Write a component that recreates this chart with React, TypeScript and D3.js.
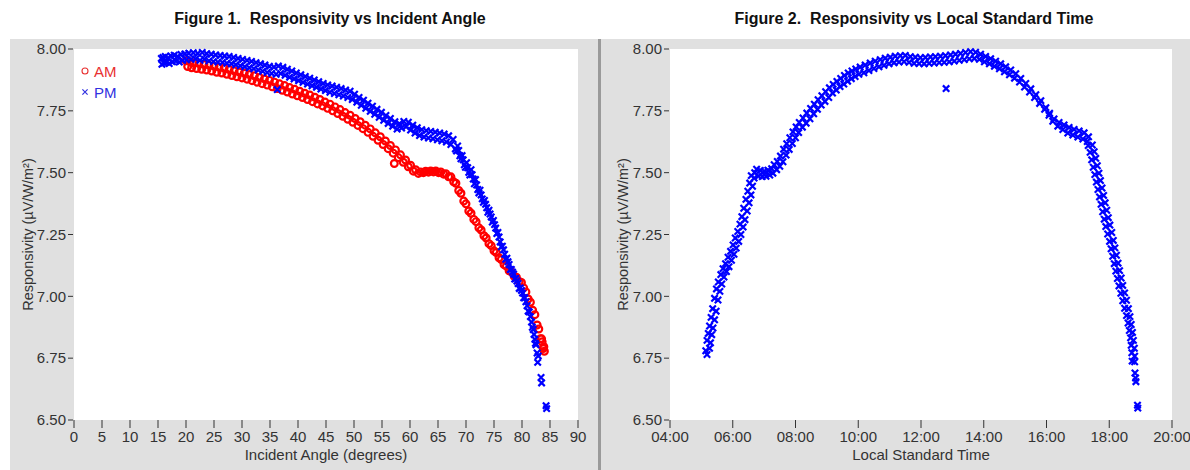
import React from "react";
import * as d3 from "d3";

// ---------- data ----------
const respTicks = [6.5, 6.75, 7.0, 7.25, 7.5, 7.75, 8.0];
const angleTicks = [0, 5, 10, 15, 20, 25, 30, 35, 40, 45, 50, 55, 60, 65, 70, 75, 80, 85, 90];
const timeTicks = [4, 6, 8, 10, 12, 14, 16, 18, 20];
const timeTickLabels = ["04:00", "06:00", "08:00", "10:00", "12:00", "14:00", "16:00", "18:00", "20:00"];

// Figure 1, AM series: [incident angle (deg), responsivity]
const amAngleResp: [number, number][] = [
  [20.0,7.952],[20.3,7.929],[20.7,7.948],[21.0,7.924],[21.4,7.944],[21.9,7.921],[22.3,7.941],[22.8,7.918],[23.2,7.937],[23.7,7.915],
  [24.1,7.934],[24.6,7.911],[25.0,7.930],[25.5,7.906],[25.9,7.926],[26.4,7.903],[26.8,7.922],[27.3,7.898],[27.7,7.917],[28.2,7.893],
  [28.6,7.912],[29.1,7.888],[29.5,7.907],[30.0,7.883],[30.4,7.902],[30.9,7.878],[31.3,7.897],[31.8,7.872],[32.2,7.892],[32.7,7.866],
  [33.1,7.885],[33.6,7.860],[34.0,7.879],[34.5,7.854],[34.9,7.873],[35.4,7.847],[35.8,7.866],[36.3,7.840],[36.7,7.859],[37.2,7.833],
  [37.6,7.852],[38.1,7.826],[38.5,7.844],[39.0,7.818],[39.4,7.837],[39.9,7.811],[40.3,7.829],[40.8,7.804],[41.2,7.821],[41.7,7.796],
  [42.1,7.814],[42.6,7.787],[43.0,7.805],[43.5,7.778],[43.9,7.796],[44.4,7.770],[44.8,7.786],[45.3,7.760],[45.7,7.777],[46.2,7.750],
  [46.6,7.766],[47.1,7.739],[47.5,7.755],[48.0,7.728],[48.4,7.743],[48.9,7.716],[49.3,7.732],[49.8,7.704],[50.2,7.719],[50.7,7.691],
  [51.1,7.706],[51.6,7.678],[52.0,7.692],[52.5,7.663],[52.9,7.677],[53.4,7.647],[53.8,7.661],[54.3,7.631],[54.7,7.645],[55.2,7.614],
  [55.6,7.628],[56.1,7.597],[56.5,7.610],[57.0,7.579],[57.4,7.592],[57.9,7.561],[58.3,7.572],[58.8,7.542],[59.2,7.551],[59.7,7.524],
  [60.1,7.530],[60.6,7.506],[61.0,7.512],[61.5,7.497],[61.9,7.503],[62.4,7.500],[62.8,7.506],[63.3,7.502],[63.7,7.507],[64.2,7.503],
  [64.6,7.507],[65.1,7.500],[65.5,7.503],[66.0,7.494],[66.4,7.496],[66.9,7.483],[67.3,7.483],[67.8,7.463],[68.2,7.457],[68.7,7.428],
  [69.1,7.417],[69.6,7.385],[70.0,7.374],[70.5,7.345],[70.9,7.336],[71.4,7.311],[71.8,7.302],[72.3,7.277],[72.7,7.268],[73.2,7.245],
  [73.6,7.236],[74.1,7.213],[74.5,7.205],[75.0,7.184],[75.4,7.177],[75.9,7.156],[76.3,7.149],[76.8,7.128],[77.2,7.122],[77.7,7.103],
  [78.1,7.099],[78.6,7.081],[79.0,7.077],[79.5,7.060],[79.9,7.056],[80.3,7.034],[80.7,7.018],[81.1,6.989],[81.5,6.976],[81.9,6.944],
  [82.3,6.926],[82.7,6.884],[83.0,6.868],[83.3,6.829],[83.6,6.816],[83.8,6.789],[84.0,6.778],[83.9,6.796],[83.5,6.828],[57.2,7.537],
];

// Figure 1, PM series: [incident angle (deg), responsivity]
const pmAngleResp: [number, number][] = [
  [15.6,7.962],[15.7,7.938],[15.9,7.966],[16.1,7.943],[16.3,7.970],[16.5,7.946],[16.8,7.964],[17.0,7.941],[17.3,7.972],[17.6,7.948],
  [17.9,7.975],[18.2,7.951],[18.5,7.970],[18.8,7.947],[19.1,7.978],[19.4,7.954],[19.8,7.980],[20.1,7.956],[20.5,7.983],[20.9,7.958],
  [21.3,7.985],[21.7,7.960],[22.1,7.982],[22.5,7.954],[22.9,7.986],[23.3,7.959],[23.7,7.981],[24.1,7.952],[24.5,7.979],[24.9,7.949],
  [25.3,7.976],[25.7,7.947],[26.1,7.974],[26.5,7.946],[26.9,7.972],[27.3,7.942],[27.7,7.970],[28.1,7.940],[28.5,7.966],[28.9,7.936],
  [29.3,7.962],[29.7,7.932],[30.1,7.958],[30.5,7.928],[30.9,7.954],[31.3,7.924],[31.7,7.950],[32.1,7.920],[32.5,7.945],[32.9,7.915],
  [33.3,7.940],[33.7,7.910],[34.1,7.935],[34.5,7.905],[34.9,7.930],[35.3,7.901],[35.7,7.927],[36.1,7.898],[36.5,7.931],[36.9,7.901],
  [37.3,7.926],[37.7,7.894],[38.1,7.918],[38.5,7.886],[38.9,7.911],[39.3,7.879],[39.7,7.903],[40.1,7.872],[40.5,7.896],[40.9,7.865],
  [41.3,7.889],[41.7,7.858],[42.1,7.882],[42.5,7.851],[42.9,7.875],[43.3,7.845],[43.7,7.868],[44.1,7.838],[44.5,7.861],[44.9,7.832],
  [45.3,7.855],[45.7,7.825],[46.1,7.850],[46.5,7.820],[46.9,7.845],[47.3,7.815],[47.7,7.840],[48.1,7.810],[48.5,7.834],[48.9,7.804],
  [49.3,7.829],[49.7,7.796],[50.1,7.817],[50.5,7.785],[50.9,7.804],[51.3,7.772],[51.7,7.793],[52.1,7.760],[52.5,7.781],[52.9,7.748],
  [53.3,7.769],[53.7,7.736],[54.1,7.756],[54.5,7.724],[54.9,7.744],[55.3,7.712],[55.7,7.731],[56.1,7.699],[56.5,7.719],[56.9,7.688],
  [57.3,7.706],[57.7,7.676],[58.1,7.698],[58.5,7.680],[58.9,7.707],[59.3,7.686],[59.7,7.704],[60.1,7.672],[60.5,7.692],[60.9,7.660],
  [61.3,7.682],[61.7,7.650],[62.1,7.674],[62.5,7.644],[62.9,7.670],[63.3,7.640],[63.7,7.667],[64.1,7.637],[64.5,7.664],[64.9,7.633],
  [65.3,7.660],[65.7,7.629],[66.1,7.656],[66.5,7.624],[66.9,7.649],[67.3,7.614],[67.7,7.634],[68.1,7.596],[68.5,7.608],[68.9,7.568],
  [69.3,7.569],[69.7,7.532],[70.1,7.540],[70.5,7.501],[70.9,7.512],[71.3,7.474],[71.7,7.472],[72.1,7.432],[72.5,7.429],[72.9,7.394],
  [73.3,7.388],[73.7,7.358],[74.1,7.348],[74.5,7.321],[74.9,7.307],[75.3,7.276],[75.7,7.258],[76.1,7.220],[76.5,7.203],[76.9,7.170],
  [77.3,7.154],[77.7,7.129],[78.1,7.109],[78.5,7.090],[78.9,7.072],[79.3,7.052],[79.7,7.034],[80.1,7.013],[80.5,6.994],[80.9,6.962],
  [81.3,6.937],[81.7,6.896],[82.0,6.866],[82.3,6.826],[82.5,6.804],[82.7,6.771],[82.9,6.759],
  [68.3,7.588],[68.7,7.590],[69.1,7.556],[69.5,7.552],[69.9,7.522],[70.3,7.520],[70.7,7.490],[71.1,7.492],[71.5,7.455],[71.9,7.450],
  [72.3,7.418],[72.7,7.410],[73.1,7.380],[73.5,7.372],[73.9,7.340],[74.3,7.333],[74.7,7.300],[75.1,7.290],[75.5,7.254],[75.9,7.240],
  [76.3,7.200],[76.7,7.188],[77.1,7.150],[77.5,7.140],[77.9,7.108],[78.3,7.098],[78.7,7.070],[79.1,7.062],[79.5,7.032],[79.9,7.024],
  [80.3,6.994],[80.7,6.978],[81.1,6.940],[81.5,6.918],[81.85,6.875],[82.15,6.846],[82.4,6.810],
  [82.8,6.733],[83.4,6.672],[83.5,6.650],[84.3,6.558],[84.4,6.546],[36.3,7.836],
];

// Figure 2: [local standard time (hours), responsivity]
const timeResp: [number, number][] = [
  [5.18,6.765],[5.26,6.790],[5.14,6.780],[5.29,6.812],[5.18,6.822],[5.33,6.845],[5.22,6.850],[5.37,6.872],[5.26,6.880],[5.42,6.905],
  [5.31,6.915],[5.47,6.940],[5.36,6.950],[5.53,6.985],[5.42,6.992],[5.59,7.020],[5.48,7.030],[5.65,7.050],[5.54,7.058],[5.72,7.078],
  [5.62,7.088],[5.80,7.100],[5.69,7.112],[5.88,7.120],[5.77,7.132],[5.96,7.146],[5.85,7.158],[6.04,7.170],[5.93,7.182],[6.11,7.195],
  [6.01,7.208],[6.19,7.222],[6.08,7.236],[6.26,7.250],[6.16,7.262],[6.33,7.280],[6.23,7.292],[6.39,7.310],[6.29,7.322],[6.46,7.345],
  [6.35,7.356],[6.52,7.378],[6.42,7.392],[6.58,7.410],[6.48,7.425],[6.63,7.445],[6.54,7.458],[6.68,7.478],[6.59,7.488],[6.70,7.500],
  [6.76,7.514],[6.82,7.486],[6.88,7.509],[6.94,7.484],[7.00,7.506],[7.06,7.485],[7.12,7.510],[7.18,7.490],[7.24,7.516],[7.28,7.498],
  [7.32,7.532],[7.40,7.512],[7.42,7.545],[7.50,7.526],[7.52,7.567],[7.60,7.544],[7.62,7.595],[7.70,7.571],[7.72,7.617],[7.80,7.594],
  [7.82,7.641],[7.90,7.618],[7.92,7.665],[8.00,7.641],[8.02,7.685],[8.10,7.662],[8.12,7.703],[8.22,7.684],[8.24,7.721],[8.34,7.700],
  [8.36,7.741],[8.46,7.718],[8.48,7.760],[8.58,7.738],[8.60,7.777],[8.70,7.756],[8.72,7.795],[8.82,7.773],[8.84,7.811],[8.94,7.788],
  [8.96,7.827],[9.06,7.804],[9.08,7.843],[9.18,7.822],[9.20,7.857],[9.30,7.834],[9.32,7.869],[9.42,7.848],[9.44,7.881],[9.54,7.858],
  [9.56,7.893],[9.66,7.870],[9.68,7.903],[9.78,7.880],[9.80,7.911],[9.90,7.889],[9.92,7.919],[10.02,7.898],[10.06,7.927],[10.18,7.904],
  [10.22,7.935],[10.34,7.913],[10.38,7.943],[10.50,7.921],[10.54,7.951],[10.66,7.928],[10.70,7.957],[10.82,7.934],[10.86,7.963],[10.98,7.940],
  [11.02,7.967],[11.14,7.944],[11.18,7.971],[11.30,7.947],[11.34,7.973],[11.46,7.949],[11.50,7.974],[11.62,7.946],[11.66,7.969],[11.78,7.942],
  [11.82,7.967],[11.94,7.941],[11.98,7.965],[12.10,7.940],[12.14,7.966],[12.26,7.942],[12.30,7.968],[12.42,7.943],[12.46,7.969],[12.58,7.945],
  [12.62,7.971],[12.74,7.946],[12.78,7.973],[12.90,7.948],[12.94,7.976],[13.06,7.951],[13.10,7.979],[13.22,7.954],[13.26,7.982],[13.38,7.957],
  [13.42,7.986],[13.54,7.960],[13.58,7.989],[13.70,7.962],[13.74,7.987],[13.86,7.958],[13.90,7.979],[14.02,7.948],[14.06,7.970],[14.18,7.940],
  [14.22,7.961],[14.34,7.930],[14.38,7.951],[14.50,7.920],[14.54,7.940],[14.66,7.908],[14.70,7.928],[14.82,7.896],[14.86,7.915],[14.98,7.882],
  [15.02,7.900],[15.14,7.866],[15.18,7.881],[15.30,7.846],[15.34,7.861],[15.46,7.826],[15.50,7.839],[15.62,7.804],[15.66,7.815],[15.78,7.780],
  [15.82,7.791],[15.94,7.756],[15.98,7.763],[16.08,7.732],[16.10,7.740],[16.20,7.708],[16.24,7.717],[16.36,7.688],[16.40,7.703],[16.52,7.674],
  [16.56,7.693],[16.68,7.660],[16.72,7.683],[16.84,7.652],[16.88,7.675],[17.00,7.644],[17.04,7.669],[17.16,7.636],[17.20,7.661],[17.30,7.626],
  [17.34,7.645],[17.33,7.610],[17.46,7.612],[17.39,7.582],[17.52,7.585],[17.44,7.552],[17.57,7.558],[17.49,7.522],[17.62,7.528],[17.54,7.492],
  [17.67,7.498],[17.59,7.462],[17.72,7.468],[17.64,7.432],[17.77,7.438],[17.69,7.402],[17.82,7.408],[17.74,7.372],[17.87,7.378],[17.79,7.342],
  [17.92,7.348],[17.84,7.312],[17.97,7.318],[17.89,7.282],[18.02,7.288],[17.95,7.252],[18.08,7.258],[18.01,7.222],[18.13,7.226],[18.06,7.192],
  [18.18,7.196],[18.11,7.162],[18.23,7.166],[18.16,7.132],[18.28,7.134],[18.21,7.102],[18.33,7.104],[18.26,7.072],[18.38,7.074],[18.31,7.042],
  [18.43,7.044],[18.37,7.012],[18.49,7.014],[18.43,6.982],[18.55,6.984],[18.49,6.952],[18.61,6.950],[18.55,6.922],[18.66,6.918],[18.60,6.892],
  [18.70,6.886],[18.64,6.862],[18.74,6.854],[18.68,6.832],[18.77,6.822],[18.70,6.802],[18.80,6.790],[18.72,6.772],[18.81,6.758],[18.73,6.738],
  [18.81,6.735],[18.82,6.690],[18.84,6.670],[18.85,6.655],[18.90,6.560],[18.91,6.548],[12.80,7.840],
];

// ---------- layout ----------
const W = 1190;
const H = 470;
const PLOT_TOP = 49;
const PLOT_BOTTOM = 420;
const P1 = { left: 74, right: 578 };
const P2 = { left: 670, right: 1172 };
const GRAY = "#e0e0e0";
const TXT = "#333333";
const FONT = "Arial, 'Liberation Sans', Helvetica, sans-serif";

const yScale = d3.scaleLinear().domain([6.5, 8.0]).range([PLOT_BOTTOM, PLOT_TOP]);
const x1 = d3.scaleLinear().domain([0, 90]).range([P1.left, P1.right]);
const x2 = d3.scaleLinear().domain([4, 20]).range([P2.left, P2.right]);

const cross = "M-3.2,-3.2L3.2,3.2M-3.2,3.2L3.2,-3.2";
const legendCross = "M-2.6,-2.6L2.6,2.6M-2.6,2.6L2.6,-2.6";

function YAxis({ left }: { left: number }) {
  return (
    <g>
      {respTicks.map((t) => (
        <g key={t}>
          <line x1={left - 6} x2={left - 1} y1={yScale(t)} y2={yScale(t)} stroke={TXT} strokeWidth={1} />
          <text x={left - 8} y={yScale(t)} dy="0.35em" textAnchor="end" fontSize={15} fill={TXT} fontFamily={FONT}>
            {d3.format(".2f")(t)}
          </text>
        </g>
      ))}
    </g>
  );
}

function XAxis({ scale, ticks, labels }: { scale: d3.ScaleLinear<number, number>; ticks: number[]; labels: string[] }) {
  return (
    <g>
      {ticks.map((t, i) => (
        <g key={t}>
          <line x1={scale(t)} x2={scale(t)} y1={PLOT_BOTTOM} y2={PLOT_BOTTOM + 8} stroke={TXT} strokeWidth={1} />
          <text x={scale(t)} y={PLOT_BOTTOM + 22} textAnchor="middle" fontSize={15} fill={TXT} fontFamily={FONT}>
            {labels[i]}
          </text>
        </g>
      ))}
    </g>
  );
}

export default function App() {
  const yMid = (PLOT_TOP + PLOT_BOTTOM) / 2;
  return (
    <svg width={W} height={H} style={{ position: "absolute", left: 0, top: 0, background: "#ffffff" }}>
      <rect x={0} y={0} width={W} height={H} fill="#ffffff" />
      {/* panels */}
      <rect x={10} y={39} width={588} height={H - 39} fill={GRAY} />
      <rect x={601} y={39} width={W - 601} height={H - 39} fill={GRAY} />
      <rect x={598} y={39} width={3} height={H - 39} fill="#9a9a9a" />

      {/* titles */}
      <text x={330} y={24} textAnchor="middle" fontSize={16} fontWeight="bold" fill="#111" fontFamily={FONT}>
        Figure 1.{"\u00a0\u00a0"}Responsivity vs Incident Angle
      </text>
      <text x={914} y={24} textAnchor="middle" fontSize={16} fontWeight="bold" fill="#111" fontFamily={FONT}>
        Figure 2.{"\u00a0\u00a0"}Responsivity vs Local Standard Time
      </text>

      {/* Figure 1 */}
      <rect x={P1.left} y={PLOT_TOP} width={P1.right - P1.left} height={PLOT_BOTTOM - PLOT_TOP} fill="#ffffff" />
      <YAxis left={P1.left} />
      <XAxis scale={x1} ticks={angleTicks} labels={angleTicks.map(String)} />
      <text x={(P1.left + P1.right) / 2} y={460} textAnchor="middle" fontSize={15} fill={TXT} fontFamily={FONT}>
        Incident Angle (degrees)
      </text>
      <text transform={`translate(33,${yMid}) rotate(-90)`} textAnchor="middle" fontSize={14.5} fill={TXT} fontFamily={FONT}>
        Responsivity (µV/W/m²)
      </text>
      <g>
        {amAngleResp.map(([a, v], i) => (
          <circle key={"a" + i} cx={x1(a)} cy={yScale(v)} r={3.4} fill="none" stroke="#ff0000" strokeWidth={2.2} />
        ))}
      </g>
      <g>
        {pmAngleResp.map(([a, v], i) => (
          <path key={"p" + i} d={cross} transform={`translate(${x1(a)},${yScale(v)})`} stroke="#0000ff" strokeWidth={2.2} fill="none" />
        ))}
      </g>
      {/* legend */}
      <circle cx={85} cy={71} r={3} fill="none" stroke="#e83030" strokeWidth={1.1} />
      <text x={94} y={76.5} fontSize={15} fill="#e83030" fontFamily={FONT}>AM</text>
      <path d={legendCross} transform="translate(85,92)" stroke="#3030e0" strokeWidth={1.2} fill="none" />
      <text x={94} y={97.5} fontSize={15} fill="#3030e0" fontFamily={FONT}>PM</text>

      {/* Figure 2 */}
      <rect x={P2.left} y={PLOT_TOP} width={P2.right - P2.left} height={PLOT_BOTTOM - PLOT_TOP} fill="#ffffff" />
      <YAxis left={P2.left} />
      <XAxis scale={x2} ticks={timeTicks} labels={timeTickLabels} />
      <text x={(P2.left + P2.right) / 2} y={460} textAnchor="middle" fontSize={15} fill={TXT} fontFamily={FONT}>
        Local Standard Time
      </text>
      <text transform={`translate(628,${yMid}) rotate(-90)`} textAnchor="middle" fontSize={14.5} fill={TXT} fontFamily={FONT}>
        Responsivity (µV/W/m²)
      </text>
      <g>
        {timeResp.map(([h, v], i) => (
          <path key={"t" + i} d={cross} transform={`translate(${x2(h)},${yScale(v)})`} stroke="#0000ff" strokeWidth={2.2} fill="none" />
        ))}
      </g>
    </svg>
  );
}
